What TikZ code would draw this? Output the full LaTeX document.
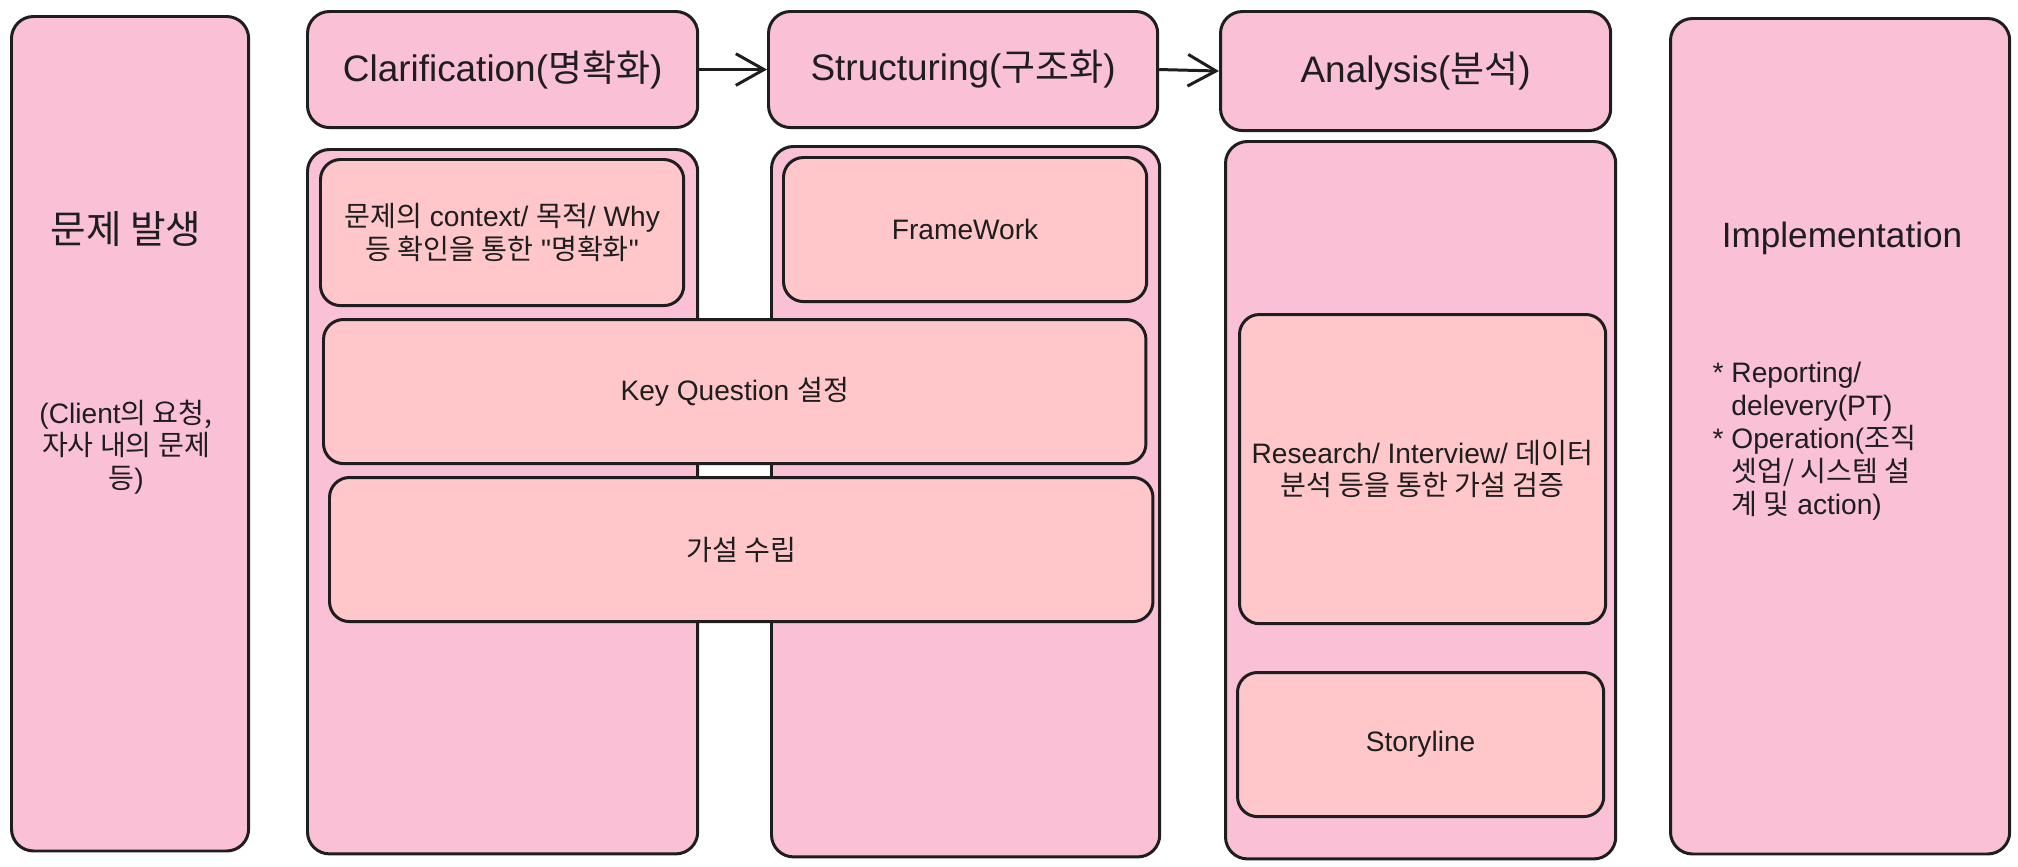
\documentclass[tikz,border=0pt]{standalone}
\usepackage{fontspec}
\setmainfont{Liberation Sans}[Ligatures=TeXOff]
\newfontfamily\kr{Noto Sans CJK KR}
\usetikzlibrary{arrows.meta}
\definecolor{stagepink}{HTML}{FAC0D6}
\definecolor{taskpink}{HTML}{FFC7C9}
\definecolor{inkgray}{HTML}{1E1E1E}

\begin{document}
\begin{tikzpicture}[
	x=0.01cm, y=-0.01cm,
	stage/.style={draw=inkgray,line width=0.85pt,fill=stagepink,rounded corners=0.22cm,anchor=north west,inner sep=0pt},
	task/.style={draw=inkgray,line width=0.85pt,fill=taskpink,rounded corners=0.2cm,anchor=north west,inner sep=0pt,align=center,text=inkgray,font=\fontsize{8}{9.2}\selectfont},
	title/.style={text=inkgray,align=center,font=\fontsize{10.5}{12}\selectfont},
	note/.style={text=inkgray,align=center,font=\fontsize{8}{9.2}\selectfont},
	flow/.style={draw=inkgray,line width=0.85pt,-{Straight Barb[length=8pt,width=9pt]}}
]
\useasboundingbox (0,0) rectangle (2018,866);

	% problem column
	\node[stage,minimum width=2.37cm,minimum height=8.34cm] (prob) at (10,15) {};
	\node[title,font=\fontsize{11}{13}\selectfont] (probtitle) at (126,229) {\kr 문제 발생};
	\node[note] (probnote) at (126,447) {(Client{\kr 의 요청,}\\{\kr 자사 내의 문제}\\{\kr 등})};

	% stage headers
	\node[stage,title,minimum width=3.90cm,minimum height=1.16cm] (clarhd) at (306,10) {Clarification({\kr 명확화})};
	\node[stage,title,minimum width=3.89cm,minimum height=1.16cm] (structhd) at (767,10) {Structuring({\kr 구조화})};
	\node[stage,title,minimum width=3.90cm,minimum height=1.19cm] (analhd) at (1219,10) {Analysis({\kr 분석})};

	\draw[flow] (clarhd.east) -- (structhd.west);
	\draw[flow] (structhd.east) -- (analhd.west);

	% stage bodies
	\node[stage,minimum width=3.90cm,minimum height=7.04cm] (clarbody) at (306,148) {};
	\node[stage,minimum width=3.88cm,minimum height=7.10cm] (structbody) at (770,145) {};
	\node[stage,minimum width=3.90cm,minimum height=7.17cm] (analbody) at (1224,140) {};

	\node[task,minimum width=3.63cm,minimum height=1.46cm] (context) at (319,158) {{\kr 문제의} context/ {\kr 목적}/ Why\\{\kr 등 확인을 통한} "{\kr 명확화}"};
	\node[task,minimum width=3.63cm,minimum height=1.44cm] (framework) at (782,156) {FrameWork};
	\node[task,minimum width=8.22cm,minimum height=1.44cm] (keyq) at (322,318) {Key Question {\kr 설정}};
	\node[task,minimum width=8.23cm,minimum height=1.44cm] (hypo) at (328,476) {\kr 가설 수립};
	\node[task,minimum width=3.66cm,minimum height=3.09cm] (research) at (1238,313) {Research/ Interview/ {\kr 데이터}\\{\kr 분석 등을 통한 가설 검증}};
	\node[task,minimum width=3.66cm,minimum height=1.44cm] (story) at (1236,671) {Storyline};

	% implementation column
	\node[stage,minimum width=3.39cm,minimum height=8.35cm] (impl) at (1669,17) {};
	\node[title,font=\fontsize{10}{12}\selectfont] (impltitle) at (1842,238) {Implementation};
	\node[note,anchor=west,inner sep=0pt] (implnote) at (1712,442) {%
		\begin{tabular}{@{}l@{\ }l@{}}
		{*} & Reporting/\\
		    & delevery(PT)\\
		{*} & Operation({\kr 조직}\\
		    & {\kr 셋업/ 시스템 설}\\
		    & {\kr 계 및} action)
		\end{tabular}};
\end{tikzpicture}
\end{document}
